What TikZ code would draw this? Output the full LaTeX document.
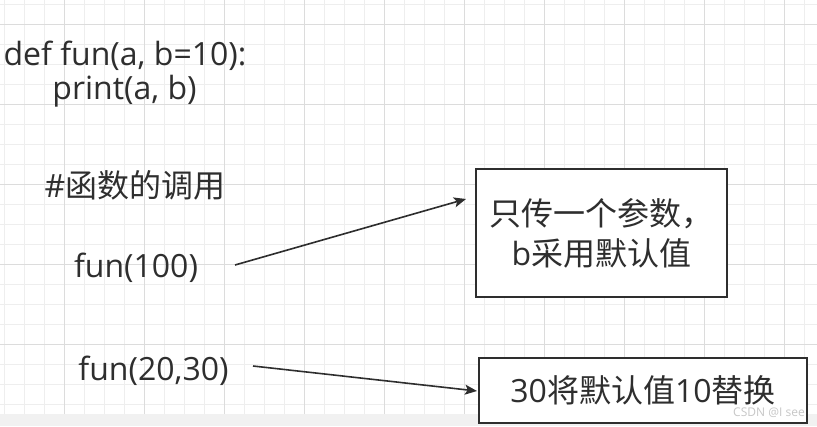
\documentclass[tikz,border=0pt]{standalone}
\usepackage{fontspec}
\setmainfont{Open Sans}[Scale=1.0]
\newfontfamily\cjk{Noto Sans CJK SC}
\usetikzlibrary{arrows.meta}
\definecolor{ink}{HTML}{2E2E2E}
\definecolor{minorgrid}{HTML}{EEEEEE}
\definecolor{majorgrid}{HTML}{DCDCDC}
\definecolor{band}{HTML}{F1F1F1}

\begin{document}
\begin{tikzpicture}[
        x=0.75pt,
        y=-0.75pt,
        txt/.style={font=\fontsize{24}{30}\selectfont, text=ink, inner sep=0pt},
        note/.style={draw=ink, line width=1.1pt, fill=white, inner sep=0pt, align=center},
        link/.style={draw=ink, line width=1.2pt, -{Stealth[length=9pt, width=7.5pt, inset=2pt]}}
    ]
        \useasboundingbox (0,0) rectangle (817,426);
        \fill[band] (0,414) rectangle (817,426);
        \foreach \x in {4,24,...,804}{
            \draw[minorgrid, line width=0.75pt] (\x,0) -- (\x,414);
        }
        \foreach \y in {4,24,...,404}{
            \draw[minorgrid, line width=0.75pt] (0,\y) -- (817,\y);
        }
        \foreach \x in {64,144,...,784}{
            \draw[majorgrid, line width=0.75pt] (\x,0) -- (\x,414);
        }
        \foreach \y in {24,104,...,344}{
            \draw[majorgrid, line width=0.75pt] (0,\y) -- (817,\y);
        }
        \node[txt, anchor=base] (defline) at (125,65) {def fun(a, b=10):};
        \node[txt, anchor=base] (printline) at (124.5,99) {print(a, b)};
        \node[txt, anchor=base] (comment) at (135,197) {\#{\cjk 函数的调用}};
        \node[txt, anchor=base] (callone) at (136,277) {fun(100)};
        \node[txt, anchor=base] (calltwo) at (153.5,380) {fun(20,30)};
        \node[txt, note, minimum width=188.25pt, minimum height=96pt] (onearg) at (601.5,233)
            {{\cjk 只传一个参数，}\\b{\cjk 采用默认值}};
        \node[txt, note, minimum width=246pt, minimum height=48.75pt] (replace) at (643,390.5)
            {30{\cjk 将默认值}10{\cjk 替换}};
        \node[font=\fontsize{9}{10}\selectfont, text=black!22, anchor=base east, inner sep=0pt] (mark) at (805,416) {CSDN @I see};
        \coordinate (fromone) at (235,265);
        \coordinate (toone) at (466,199);
        \coordinate (fromtwo) at (253,366);
        \coordinate (totwo) at (477,391);
        \draw[link] (fromone) -- (toone);
        \draw[link] (fromtwo) -- (totwo);
    \end{tikzpicture}
\end{document}
